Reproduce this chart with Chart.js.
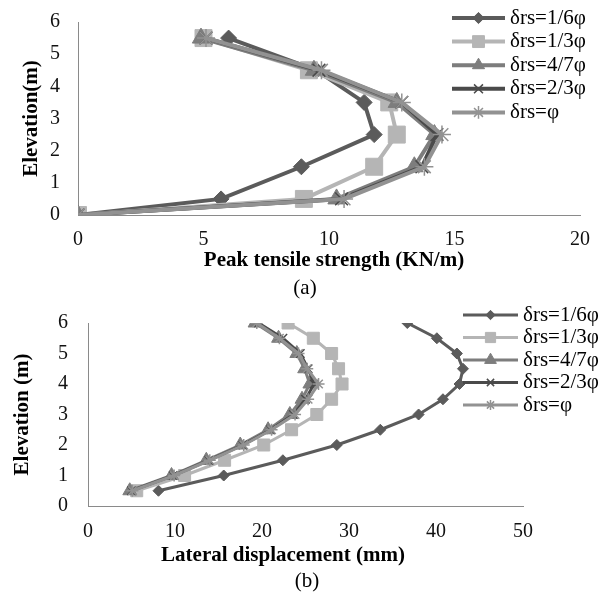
<!DOCTYPE html>
<html lang="en">

<head>
  <meta charset="UTF-8">
  <script src="https://cdn.jsdelivr.net/npm/chart.js"></script>
  <title> Elevation charts </title>
  <style>
    body { margin: 0; background: #fff; }
    .mae { position: relative; width: 610px; height: 594px; background: #fff; font-family: "Liberation Serif", "Times New Roman", serif; color: #000; }
    .mae canvas { position: absolute; left: 0; }
    .rotulo { position: absolute; transform: translate(-50%, -50%); white-space: nowrap; font-size: 21px; }
    .negrito { font-weight: bold; }
  </style>
</head>

<body>
  <div class="mae">
    <canvas id="chartA" width="610" height="255" style="top:0px"></canvas>
    <canvas id="chartB" width="610" height="245" style="top:300px"></canvas>
    <div class="rotulo negrito" style="left:334px; top:259px">Peak tensile strength (KN/m)</div>
    <div class="rotulo" style="left:305px; top:287px">(a)</div>
    <div class="rotulo negrito" style="left:283px; top:554px">Lateral displacement (mm)</div>
    <div class="rotulo" style="left:307px; top:580px">(b)</div>
  </div>

<script>
  // dados
  const labelsSerie = ['δrs=1/6φ', 'δrs=1/3φ', 'δrs=4/7φ', 'δrs=2/3φ', 'δrs=φ'];

  // (a) resistencia de pico
  const elevA = [0, 0.5, 1.5, 2.5, 3.5, 4.5, 5.5];
  const a16 = [0, 5.7, 8.9, 11.8, 11.4, 9.5, 6.0];
  const a13 = [0, 9.0, 11.8, 12.7, 12.4, 9.2, 5.0];
  const a47 = [0, 10.3, 13.4, 14.2, 12.7, 9.4, 4.9];
  const a23 = [0, 10.5, 13.7, 14.3, 12.9, 9.6, 5.1];
  const aPhi = [0, 10.6, 13.8, 14.5, 12.9, 9.7, 5.1];
  const ticksXA = [0, 5, 10, 15, 20];

  // (b) deslocamento lateral
  const elevB = [0.5, 1, 1.5, 2, 2.5, 3, 3.5, 4, 4.5, 5, 5.5, 6];
  const b16 = [8.1, 15.6, 22.4, 28.6, 33.6, 38.0, 40.8, 42.7, 43.1, 42.4, 40.1, 36.7];
  const b13 = [5.6, 11.1, 15.7, 20.2, 23.4, 26.3, 28.0, 29.2, 28.8, 28.0, 25.9, 23.0];
  const b47 = [4.8, 9.6, 13.6, 17.5, 20.7, 23.2, 24.6, 25.5, 24.9, 24.0, 21.9, 19.2];
  const b23 = [5.0, 9.8, 13.9, 17.8, 21.0, 23.6, 25.0, 26.0, 25.3, 24.4, 22.4, 19.6];
  const bPhi = [5.1, 9.9, 14.0, 17.9, 21.1, 23.8, 25.3, 26.5, 25.2, 24.2, 22.0, 19.4];
  const ticksXB = [0, 10, 20, 30, 40, 50];

  const cores = ['#5b5b5b', '#b5b5b5', '#7d7d7d', '#4a4a4a', '#929292'];
  const estilos = ['rectRot', 'rect', 'triangle', 'crossRot', 'star'];

  const fonte = '"Liberation Serif", "Times New Roman", serif';

  function pontos(xs, ys) {
    return xs.map(function (v, i) { return { x: v, y: ys[i] } });
  }

  // legenda desenhada por cima do grafico, como no Excel
  const legendaExcel = {
    id: 'legendaExcel',
    afterDraw(chart, args, opts) {
      const ctx = chart.ctx;
      chart.data.datasets.forEach(function (ds, i) {
        const y = opts.y + i * opts.gap;
        ctx.save();
        ctx.strokeStyle = ds.borderColor;
        ctx.lineWidth = ds.borderWidth;
        ctx.beginPath();
        ctx.moveTo(opts.x, y);
        ctx.lineTo(opts.x + opts.len, y);
        ctx.stroke();
        ctx.fillStyle = ds.pointBackgroundColor;
        ctx.strokeStyle = ds.pointBorderColor;
        ctx.lineWidth = ds.pointBorderWidth;
        if (Chart.helpers && Chart.helpers.drawPoint) {
          Chart.helpers.drawPoint(ctx, {
            pointStyle: ds.pointStyle, radius: ds.pointRadius * opts.escala,
            borderWidth: ds.pointBorderWidth, rotation: 0
          }, opts.x + opts.len / 2, y);
        }
        ctx.fillStyle = '#000';
        ctx.font = '21px ' + fonte;
        ctx.textBaseline = 'middle';
        ctx.textAlign = 'left';
        ctx.fillText(ds.label, opts.x + opts.len + 5, y);
        ctx.restore();
      });
    }
  };

  function montarDatasets(series, ys, linha, raios) {
    return series.map(function (xs, i) {
      const fino = estilos[i] === 'crossRot' || estilos[i] === 'star';
      return {
        label: labelsSerie[i],
        data: pontos(xs, ys),
        showLine: true,
        borderColor: cores[i],
        backgroundColor: cores[i],
        borderWidth: linha,
        pointStyle: estilos[i],
        pointRadius: raios[i],
        pointBackgroundColor: cores[i],
        pointBorderColor: cores[i],
        pointBorderWidth: fino ? 1.5 : 1,
        order: 4 - i
      };
    });
  }

  // zera a folga dos rotulos para a area do grafico ficar onde queremos
  function semFolga(s) {
    s.paddingTop = 0; s.paddingBottom = 0; s.paddingLeft = 0; s.paddingRight = 0;
  }

  function plotar(id, datasets, cfg) {
    return new Chart(document.getElementById(id), {
      type: 'scatter',
      data: { datasets: datasets },
      options: {
        responsive: false,
        animation: false,
        events: [],
        layout: { padding: { top: cfg.top, right: cfg.right, left: 0, bottom: 0 } },
        plugins: {
          legend: { display: false },
          tooltip: { enabled: false },
          legendaExcel: cfg.legenda
        },
        scales: {
          x: {
            type: 'linear', min: cfg.ticksX[0], max: cfg.ticksX[cfg.ticksX.length - 1],
            afterBuildTicks: function (s) { s.ticks = cfg.ticksX.map(function (v) { return { value: v } }) },
            afterFit: function (s) { s.height = cfg.alturaX; semFolga(s) },
            grid: { display: false, drawTicks: false },
            border: { display: true, color: '#8a8a8a', width: 1 },
            ticks: { padding: cfg.padX, color: '#111', font: { family: fonte, size: 20 }, maxRotation: 0 }
          },
          y: {
            type: 'linear', min: 0, max: 6,
            ticks: { stepSize: 1, padding: cfg.padY, color: '#111', font: { family: fonte, size: 20 } },
            afterFit: function (s) { s.width = cfg.larguraY; semFolga(s) },
            grid: { display: false, drawTicks: false },
            border: { display: true, color: '#8a8a8a', width: 1 },
            title: {
              display: true, text: cfg.tituloY, color: '#000',
              font: { family: fonte, size: 21, weight: 'bold' },
              padding: { top: cfg.padTitulo, bottom: 0 }
            }
          }
        }
      },
      plugins: [legendaExcel]
    });
  }

  plotar('chartA', montarDatasets([a16, a13, a47, a23, aPhi], elevA, 4, [8, 12, 10, 9, 9]), {
    top: 22, right: 30, larguraY: 78, alturaX: 40, padX: 13, padY: 18, padTitulo: 19,
    ticksX: ticksXA, tituloY: 'Elevation(m)',
    legenda: { x: 452, y: 18, gap: 23.6, len: 53, escala: 0.7 }
  });

  plotar('chartB', montarDatasets([b16, b13, b47, b23, bPhi], elevB, 3, [5.5, 8.5, 8, 6, 6]), {
    top: 23, right: 87, larguraY: 88, alturaX: 39, padX: 14, padY: 20, padTitulo: 10,
    ticksX: ticksXB, tituloY: 'Elevation (m)',
    legenda: { x: 463, y: 15, gap: 22.5, len: 55, escala: 0.85 }
  });
</script>
</body>

</html>
